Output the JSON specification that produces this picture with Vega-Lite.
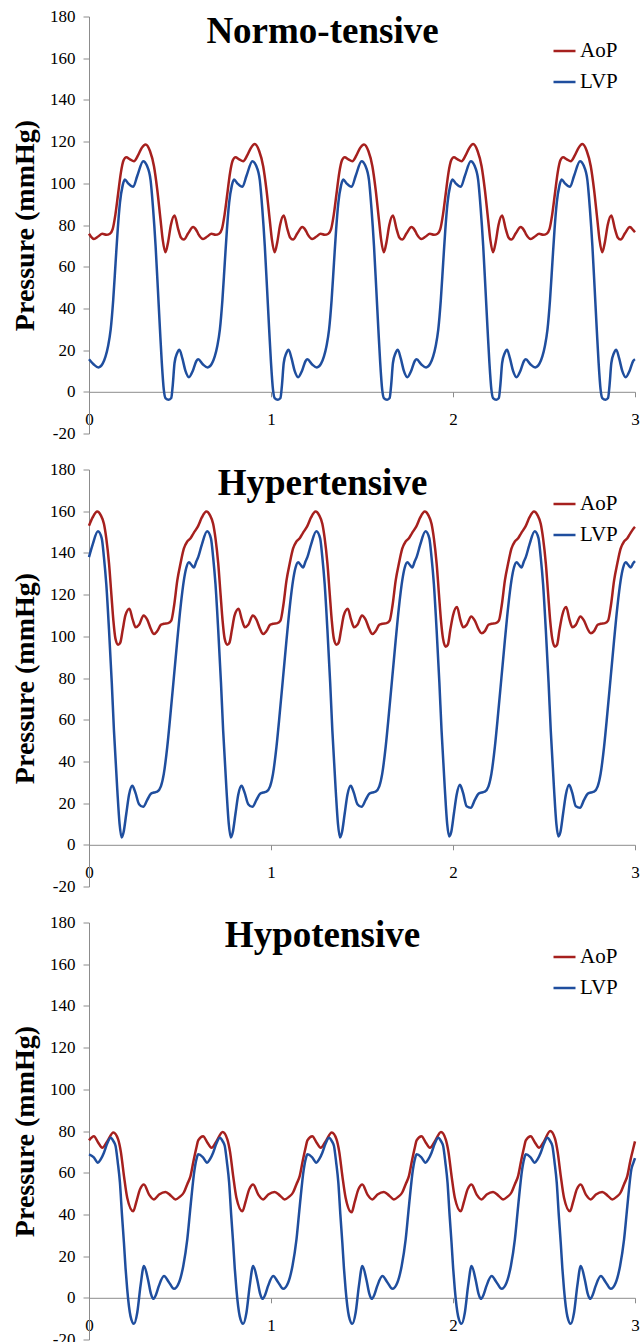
{
"$schema": "https://vega.github.io/schema/vega-lite/v6.json",
"padding": {"left": 11, "top": 7.5, "right": 0, "bottom": 0},
"spacing": 19,
"config": {"font": "Liberation Serif", "view": {"stroke": null},
  "axis": {"labelFont": "Liberation Serif", "titleFont": "Liberation Serif"},
  "legend": {"labelFont": "Liberation Serif"},
  "text": {"font": "Liberation Serif"}},
"resolve": {"scale": {"color": "independent"}, "legend": {"color": "independent"}},
"datasets": {
"normo": [
{"k":"AoP","t":0,"v":75.8},{"k":"AoP","t":0.027,"v":73.3},{"k":"AoP","t":0.05,"v":74.5},{"k":"AoP","t":0.073,"v":75.8},{"k":"AoP","t":0.095,"v":75.3},{"k":"AoP","t":0.115,"v":75.8},{"k":"AoP","t":0.13,"v":78},{"k":"AoP","t":0.145,"v":85},{"k":"AoP","t":0.16,"v":95},{"k":"AoP","t":0.175,"v":105},{"k":"AoP","t":0.19,"v":111},{"k":"AoP","t":0.205,"v":112.5},{"k":"AoP","t":0.225,"v":111.5},{"k":"AoP","t":0.247,"v":110.6},{"k":"AoP","t":0.27,"v":113.5},{"k":"AoP","t":0.29,"v":117},{"k":"AoP","t":0.311,"v":118.6},{"k":"AoP","t":0.335,"v":115.5},{"k":"AoP","t":0.357,"v":108.2},{"k":"AoP","t":0.375,"v":97},{"k":"AoP","t":0.393,"v":82.6},{"k":"AoP","t":0.405,"v":73},{"k":"AoP","t":0.42,"v":66.9},{"k":"AoP","t":0.435,"v":72},{"k":"AoP","t":0.45,"v":80},{"k":"AoP","t":0.47,"v":84.5},{"k":"AoP","t":0.49,"v":78},{"k":"AoP","t":0.505,"v":74},{"k":"AoP","t":0.521,"v":73},{"k":"AoP","t":0.545,"v":76},{"k":"AoP","t":0.572,"v":79},{"k":"AoP","t":0.59,"v":77.5},
{"k":"AoP","t":0.6,"v":75.8},{"k":"AoP","t":0.627,"v":73.3},{"k":"AoP","t":0.65,"v":74.5},{"k":"AoP","t":0.673,"v":75.8},{"k":"AoP","t":0.695,"v":75.3},{"k":"AoP","t":0.715,"v":75.8},{"k":"AoP","t":0.73,"v":78},{"k":"AoP","t":0.745,"v":85},{"k":"AoP","t":0.76,"v":95},{"k":"AoP","t":0.775,"v":105},{"k":"AoP","t":0.79,"v":111},{"k":"AoP","t":0.805,"v":112.5},{"k":"AoP","t":0.825,"v":111.5},{"k":"AoP","t":0.847,"v":110.6},{"k":"AoP","t":0.87,"v":113.5},{"k":"AoP","t":0.89,"v":117},{"k":"AoP","t":0.911,"v":118.8},{"k":"AoP","t":0.935,"v":115.5},{"k":"AoP","t":0.957,"v":108.2},{"k":"AoP","t":0.975,"v":97},{"k":"AoP","t":0.993,"v":82.6},{"k":"AoP","t":1.005,"v":73},{"k":"AoP","t":1.02,"v":66.9},{"k":"AoP","t":1.035,"v":72},{"k":"AoP","t":1.05,"v":80},{"k":"AoP","t":1.07,"v":84.5},{"k":"AoP","t":1.09,"v":78},{"k":"AoP","t":1.105,"v":74},{"k":"AoP","t":1.121,"v":73},{"k":"AoP","t":1.145,"v":76},{"k":"AoP","t":1.172,"v":79},{"k":"AoP","t":1.19,"v":77.5},
{"k":"AoP","t":1.2,"v":75.8},{"k":"AoP","t":1.227,"v":73.3},{"k":"AoP","t":1.25,"v":74.5},{"k":"AoP","t":1.273,"v":75.8},{"k":"AoP","t":1.295,"v":75.3},{"k":"AoP","t":1.315,"v":75.8},{"k":"AoP","t":1.33,"v":78},{"k":"AoP","t":1.345,"v":85},{"k":"AoP","t":1.36,"v":95},{"k":"AoP","t":1.375,"v":105},{"k":"AoP","t":1.39,"v":111},{"k":"AoP","t":1.405,"v":112.5},{"k":"AoP","t":1.425,"v":111.5},{"k":"AoP","t":1.447,"v":110.6},{"k":"AoP","t":1.47,"v":113.5},{"k":"AoP","t":1.49,"v":117},{"k":"AoP","t":1.511,"v":118.6},{"k":"AoP","t":1.535,"v":115.5},{"k":"AoP","t":1.557,"v":108.2},{"k":"AoP","t":1.575,"v":97},{"k":"AoP","t":1.593,"v":82.6},{"k":"AoP","t":1.605,"v":73},{"k":"AoP","t":1.62,"v":66.9},{"k":"AoP","t":1.635,"v":72},{"k":"AoP","t":1.65,"v":80},{"k":"AoP","t":1.67,"v":84.5},{"k":"AoP","t":1.69,"v":78},{"k":"AoP","t":1.705,"v":74},{"k":"AoP","t":1.721,"v":73},{"k":"AoP","t":1.745,"v":76},{"k":"AoP","t":1.772,"v":79},{"k":"AoP","t":1.79,"v":77.5},
{"k":"AoP","t":1.8,"v":75.8},{"k":"AoP","t":1.827,"v":73.3},{"k":"AoP","t":1.85,"v":74.5},{"k":"AoP","t":1.873,"v":75.8},{"k":"AoP","t":1.895,"v":75.3},{"k":"AoP","t":1.915,"v":75.8},{"k":"AoP","t":1.93,"v":78},{"k":"AoP","t":1.945,"v":85},{"k":"AoP","t":1.96,"v":95},{"k":"AoP","t":1.975,"v":105},{"k":"AoP","t":1.99,"v":111},{"k":"AoP","t":2.005,"v":112.5},{"k":"AoP","t":2.025,"v":111.5},{"k":"AoP","t":2.047,"v":110.6},{"k":"AoP","t":2.07,"v":113.5},{"k":"AoP","t":2.09,"v":117},{"k":"AoP","t":2.111,"v":118.8},{"k":"AoP","t":2.135,"v":115.5},{"k":"AoP","t":2.157,"v":108.2},{"k":"AoP","t":2.175,"v":97},{"k":"AoP","t":2.193,"v":82.6},{"k":"AoP","t":2.205,"v":73},{"k":"AoP","t":2.22,"v":66.9},{"k":"AoP","t":2.235,"v":72},{"k":"AoP","t":2.25,"v":80},{"k":"AoP","t":2.27,"v":84.5},{"k":"AoP","t":2.29,"v":78},{"k":"AoP","t":2.305,"v":74},{"k":"AoP","t":2.321,"v":73},{"k":"AoP","t":2.345,"v":76},{"k":"AoP","t":2.372,"v":79},{"k":"AoP","t":2.39,"v":77.5},
{"k":"AoP","t":2.4,"v":75.8},{"k":"AoP","t":2.427,"v":73.3},{"k":"AoP","t":2.45,"v":74.5},{"k":"AoP","t":2.473,"v":75.8},{"k":"AoP","t":2.495,"v":75.3},{"k":"AoP","t":2.515,"v":75.8},{"k":"AoP","t":2.53,"v":78},{"k":"AoP","t":2.545,"v":85},{"k":"AoP","t":2.56,"v":95},{"k":"AoP","t":2.575,"v":105},{"k":"AoP","t":2.59,"v":111},{"k":"AoP","t":2.605,"v":112.5},{"k":"AoP","t":2.625,"v":111.5},{"k":"AoP","t":2.647,"v":110.6},{"k":"AoP","t":2.67,"v":113.5},{"k":"AoP","t":2.69,"v":117},{"k":"AoP","t":2.711,"v":118.8},{"k":"AoP","t":2.735,"v":115.5},{"k":"AoP","t":2.757,"v":108.2},{"k":"AoP","t":2.775,"v":97},{"k":"AoP","t":2.793,"v":82.6},{"k":"AoP","t":2.805,"v":73},{"k":"AoP","t":2.82,"v":66.9},{"k":"AoP","t":2.835,"v":72},{"k":"AoP","t":2.85,"v":80},{"k":"AoP","t":2.87,"v":84.5},{"k":"AoP","t":2.89,"v":78},{"k":"AoP","t":2.905,"v":74},{"k":"AoP","t":2.921,"v":73},{"k":"AoP","t":2.945,"v":76},{"k":"AoP","t":2.972,"v":79},{"k":"AoP","t":2.99,"v":77.5},{"k":"AoP","t":3,"v":76.5},
{"k":"LVP","t":0,"v":15.6},{"k":"LVP","t":0.025,"v":13.2},{"k":"LVP","t":0.052,"v":11.7},{"k":"LVP","t":0.075,"v":13.5},{"k":"LVP","t":0.091,"v":17},{"k":"LVP","t":0.105,"v":22},{"k":"LVP","t":0.119,"v":29.8},{"k":"LVP","t":0.133,"v":44},{"k":"LVP","t":0.146,"v":61.8},{"k":"LVP","t":0.158,"v":78},{"k":"LVP","t":0.17,"v":90.6},{"k":"LVP","t":0.185,"v":99},{"k":"LVP","t":0.197,"v":101.8},{"k":"LVP","t":0.215,"v":100},{"k":"LVP","t":0.243,"v":98.3},{"k":"LVP","t":0.265,"v":103.5},{"k":"LVP","t":0.298,"v":110.6},{"k":"LVP","t":0.318,"v":108.5},{"k":"LVP","t":0.338,"v":101.8},{"k":"LVP","t":0.352,"v":88},{"k":"LVP","t":0.366,"v":69.8},{"k":"LVP","t":0.378,"v":50},{"k":"LVP","t":0.39,"v":29.8},{"k":"LVP","t":0.4,"v":14},{"k":"LVP","t":0.411,"v":1},{"k":"LVP","t":0.42,"v":-3},{"k":"LVP","t":0.438,"v":-3.8},{"k":"LVP","t":0.452,"v":-3},{"k":"LVP","t":0.46,"v":3},{"k":"LVP","t":0.47,"v":13.8},{"k":"LVP","t":0.484,"v":18.5},{"k":"LVP","t":0.497,"v":20.2},{"k":"LVP","t":0.513,"v":16},{"k":"LVP","t":0.53,"v":10},{"k":"LVP","t":0.549,"v":7},{"k":"LVP","t":0.57,"v":10},{"k":"LVP","t":0.59,"v":14.8},
{"k":"LVP","t":0.6,"v":15.6},{"k":"LVP","t":0.625,"v":13.2},{"k":"LVP","t":0.652,"v":11.7},{"k":"LVP","t":0.675,"v":13.5},{"k":"LVP","t":0.691,"v":17},{"k":"LVP","t":0.705,"v":22},{"k":"LVP","t":0.719,"v":29.8},{"k":"LVP","t":0.733,"v":44},{"k":"LVP","t":0.746,"v":61.8},{"k":"LVP","t":0.758,"v":78},{"k":"LVP","t":0.77,"v":90.6},{"k":"LVP","t":0.785,"v":99},{"k":"LVP","t":0.797,"v":101.8},{"k":"LVP","t":0.815,"v":100},{"k":"LVP","t":0.843,"v":98.3},{"k":"LVP","t":0.865,"v":103.5},{"k":"LVP","t":0.898,"v":110.6},{"k":"LVP","t":0.918,"v":108.5},{"k":"LVP","t":0.938,"v":101.8},{"k":"LVP","t":0.952,"v":88},{"k":"LVP","t":0.966,"v":69.8},{"k":"LVP","t":0.978,"v":50},{"k":"LVP","t":0.99,"v":29.8},{"k":"LVP","t":1,"v":14},{"k":"LVP","t":1.011,"v":1},{"k":"LVP","t":1.02,"v":-3},{"k":"LVP","t":1.038,"v":-3.8},{"k":"LVP","t":1.052,"v":-3},{"k":"LVP","t":1.06,"v":3},{"k":"LVP","t":1.07,"v":13.8},{"k":"LVP","t":1.084,"v":18.5},{"k":"LVP","t":1.097,"v":20.2},{"k":"LVP","t":1.113,"v":16},{"k":"LVP","t":1.13,"v":10},{"k":"LVP","t":1.149,"v":7},{"k":"LVP","t":1.17,"v":10},{"k":"LVP","t":1.19,"v":14.8},
{"k":"LVP","t":1.2,"v":15.6},{"k":"LVP","t":1.225,"v":13.2},{"k":"LVP","t":1.252,"v":11.7},{"k":"LVP","t":1.275,"v":13.5},{"k":"LVP","t":1.291,"v":17},{"k":"LVP","t":1.305,"v":22},{"k":"LVP","t":1.319,"v":29.8},{"k":"LVP","t":1.333,"v":44},{"k":"LVP","t":1.346,"v":61.8},{"k":"LVP","t":1.358,"v":78},{"k":"LVP","t":1.37,"v":90.6},{"k":"LVP","t":1.385,"v":99},{"k":"LVP","t":1.397,"v":101.8},{"k":"LVP","t":1.415,"v":100},{"k":"LVP","t":1.443,"v":98.3},{"k":"LVP","t":1.465,"v":103.5},{"k":"LVP","t":1.498,"v":110.6},{"k":"LVP","t":1.518,"v":108.5},{"k":"LVP","t":1.538,"v":101.8},{"k":"LVP","t":1.552,"v":88},{"k":"LVP","t":1.566,"v":69.8},{"k":"LVP","t":1.578,"v":50},{"k":"LVP","t":1.59,"v":29.8},{"k":"LVP","t":1.6,"v":14},{"k":"LVP","t":1.611,"v":1},{"k":"LVP","t":1.62,"v":-3},{"k":"LVP","t":1.638,"v":-3.8},{"k":"LVP","t":1.652,"v":-3},{"k":"LVP","t":1.66,"v":3},{"k":"LVP","t":1.67,"v":13.8},{"k":"LVP","t":1.684,"v":18.5},{"k":"LVP","t":1.697,"v":20.2},{"k":"LVP","t":1.713,"v":16},{"k":"LVP","t":1.73,"v":10},{"k":"LVP","t":1.749,"v":7},{"k":"LVP","t":1.77,"v":10},{"k":"LVP","t":1.79,"v":14.8},
{"k":"LVP","t":1.8,"v":15.6},{"k":"LVP","t":1.825,"v":13.2},{"k":"LVP","t":1.852,"v":11.7},{"k":"LVP","t":1.875,"v":13.5},{"k":"LVP","t":1.891,"v":17},{"k":"LVP","t":1.905,"v":22},{"k":"LVP","t":1.919,"v":29.8},{"k":"LVP","t":1.933,"v":44},{"k":"LVP","t":1.946,"v":61.8},{"k":"LVP","t":1.958,"v":78},{"k":"LVP","t":1.97,"v":90.6},{"k":"LVP","t":1.985,"v":99},{"k":"LVP","t":1.997,"v":101.8},{"k":"LVP","t":2.015,"v":100},{"k":"LVP","t":2.043,"v":98.3},{"k":"LVP","t":2.065,"v":103.5},{"k":"LVP","t":2.098,"v":110.6},{"k":"LVP","t":2.118,"v":108.5},{"k":"LVP","t":2.138,"v":101.8},{"k":"LVP","t":2.152,"v":88},{"k":"LVP","t":2.166,"v":69.8},{"k":"LVP","t":2.178,"v":50},{"k":"LVP","t":2.19,"v":29.8},{"k":"LVP","t":2.2,"v":14},{"k":"LVP","t":2.211,"v":1},{"k":"LVP","t":2.22,"v":-3},{"k":"LVP","t":2.238,"v":-3.8},{"k":"LVP","t":2.252,"v":-3},{"k":"LVP","t":2.26,"v":3},{"k":"LVP","t":2.27,"v":13.8},{"k":"LVP","t":2.284,"v":18.5},{"k":"LVP","t":2.297,"v":20.2},{"k":"LVP","t":2.313,"v":16},{"k":"LVP","t":2.33,"v":10},{"k":"LVP","t":2.349,"v":7},{"k":"LVP","t":2.37,"v":10},{"k":"LVP","t":2.39,"v":14.8},
{"k":"LVP","t":2.4,"v":15.6},{"k":"LVP","t":2.425,"v":13.2},{"k":"LVP","t":2.452,"v":11.7},{"k":"LVP","t":2.475,"v":13.5},{"k":"LVP","t":2.491,"v":17},{"k":"LVP","t":2.505,"v":22},{"k":"LVP","t":2.519,"v":29.8},{"k":"LVP","t":2.533,"v":44},{"k":"LVP","t":2.546,"v":61.8},{"k":"LVP","t":2.558,"v":78},{"k":"LVP","t":2.57,"v":90.6},{"k":"LVP","t":2.585,"v":99},{"k":"LVP","t":2.597,"v":101.8},{"k":"LVP","t":2.615,"v":100},{"k":"LVP","t":2.643,"v":98.3},{"k":"LVP","t":2.665,"v":103.5},{"k":"LVP","t":2.698,"v":110.6},{"k":"LVP","t":2.718,"v":108.5},{"k":"LVP","t":2.738,"v":101.8},{"k":"LVP","t":2.752,"v":88},{"k":"LVP","t":2.766,"v":69.8},{"k":"LVP","t":2.778,"v":50},{"k":"LVP","t":2.79,"v":29.8},{"k":"LVP","t":2.8,"v":14},{"k":"LVP","t":2.811,"v":1},{"k":"LVP","t":2.82,"v":-3},{"k":"LVP","t":2.838,"v":-3.8},{"k":"LVP","t":2.852,"v":-3},{"k":"LVP","t":2.86,"v":3},{"k":"LVP","t":2.87,"v":13.8},{"k":"LVP","t":2.884,"v":18.5},{"k":"LVP","t":2.897,"v":20.2},{"k":"LVP","t":2.913,"v":16},{"k":"LVP","t":2.93,"v":10},{"k":"LVP","t":2.949,"v":7},{"k":"LVP","t":2.97,"v":10},{"k":"LVP","t":2.99,"v":14.8},{"k":"LVP","t":3,"v":15.6}
],
"hyper": [
{"k":"AoP","t":0,"v":153},{"k":"AoP","t":0.02,"v":157},{"k":"AoP","t":0.045,"v":159.8},{"k":"AoP","t":0.065,"v":158},{"k":"AoP","t":0.082,"v":154},{"k":"AoP","t":0.095,"v":147},{"k":"AoP","t":0.11,"v":135},{"k":"AoP","t":0.123,"v":120},{"k":"AoP","t":0.134,"v":107.5},{"k":"AoP","t":0.145,"v":99},{"k":"AoP","t":0.16,"v":96},{"k":"AoP","t":0.172,"v":97},{"k":"AoP","t":0.185,"v":103},{"k":"AoP","t":0.2,"v":110},{"k":"AoP","t":0.222,"v":113.2},{"k":"AoP","t":0.24,"v":108},{"k":"AoP","t":0.256,"v":104.3},{"k":"AoP","t":0.275,"v":105.5},{"k":"AoP","t":0.3,"v":110},{"k":"AoP","t":0.32,"v":108},{"k":"AoP","t":0.34,"v":103.5},{"k":"AoP","t":0.357,"v":101.1},{"k":"AoP","t":0.375,"v":102.5},{"k":"AoP","t":0.395,"v":105.5},{"k":"AoP","t":0.411,"v":106},{"k":"AoP","t":0.435,"v":106.3},{"k":"AoP","t":0.452,"v":107.5},{"k":"AoP","t":0.468,"v":115},{"k":"AoP","t":0.485,"v":126.7},{"k":"AoP","t":0.503,"v":135},{"k":"AoP","t":0.521,"v":142},{"k":"AoP","t":0.54,"v":145.5},{"k":"AoP","t":0.558,"v":147},{"k":"AoP","t":0.575,"v":149.5},{"k":"AoP","t":0.59,"v":151.5},
{"k":"AoP","t":0.6,"v":153},{"k":"AoP","t":0.62,"v":157},{"k":"AoP","t":0.645,"v":159.8},{"k":"AoP","t":0.665,"v":158},{"k":"AoP","t":0.682,"v":154},{"k":"AoP","t":0.695,"v":147},{"k":"AoP","t":0.71,"v":135},{"k":"AoP","t":0.723,"v":120},{"k":"AoP","t":0.734,"v":107.5},{"k":"AoP","t":0.745,"v":99},{"k":"AoP","t":0.76,"v":96},{"k":"AoP","t":0.772,"v":97},{"k":"AoP","t":0.785,"v":103},{"k":"AoP","t":0.8,"v":110},{"k":"AoP","t":0.822,"v":113.2},{"k":"AoP","t":0.84,"v":108},{"k":"AoP","t":0.856,"v":104.3},{"k":"AoP","t":0.875,"v":105.5},{"k":"AoP","t":0.9,"v":110},{"k":"AoP","t":0.92,"v":108},{"k":"AoP","t":0.94,"v":103.5},{"k":"AoP","t":0.957,"v":101.1},{"k":"AoP","t":0.975,"v":102.5},{"k":"AoP","t":0.995,"v":105.5},{"k":"AoP","t":1.011,"v":106},{"k":"AoP","t":1.035,"v":106.3},{"k":"AoP","t":1.052,"v":107.5},{"k":"AoP","t":1.068,"v":115},{"k":"AoP","t":1.085,"v":126.7},{"k":"AoP","t":1.103,"v":135},{"k":"AoP","t":1.121,"v":142},{"k":"AoP","t":1.14,"v":145.5},{"k":"AoP","t":1.158,"v":147},{"k":"AoP","t":1.175,"v":149.5},{"k":"AoP","t":1.19,"v":151.5},
{"k":"AoP","t":1.2,"v":153},{"k":"AoP","t":1.22,"v":157},{"k":"AoP","t":1.245,"v":159.8},{"k":"AoP","t":1.265,"v":158},{"k":"AoP","t":1.282,"v":154},{"k":"AoP","t":1.295,"v":147},{"k":"AoP","t":1.31,"v":135},{"k":"AoP","t":1.323,"v":120},{"k":"AoP","t":1.334,"v":107.5},{"k":"AoP","t":1.345,"v":99},{"k":"AoP","t":1.36,"v":96},{"k":"AoP","t":1.372,"v":97},{"k":"AoP","t":1.385,"v":103},{"k":"AoP","t":1.4,"v":110},{"k":"AoP","t":1.422,"v":113.2},{"k":"AoP","t":1.44,"v":108},{"k":"AoP","t":1.456,"v":104.3},{"k":"AoP","t":1.475,"v":105.5},{"k":"AoP","t":1.5,"v":110},{"k":"AoP","t":1.52,"v":108},{"k":"AoP","t":1.54,"v":103.5},{"k":"AoP","t":1.557,"v":101.1},{"k":"AoP","t":1.575,"v":102.5},{"k":"AoP","t":1.595,"v":105.5},{"k":"AoP","t":1.611,"v":106},{"k":"AoP","t":1.635,"v":106.3},{"k":"AoP","t":1.652,"v":107.5},{"k":"AoP","t":1.668,"v":115},{"k":"AoP","t":1.685,"v":126.7},{"k":"AoP","t":1.703,"v":135},{"k":"AoP","t":1.721,"v":142},{"k":"AoP","t":1.74,"v":145.5},{"k":"AoP","t":1.758,"v":147},{"k":"AoP","t":1.775,"v":149.5},{"k":"AoP","t":1.79,"v":151.5},
{"k":"AoP","t":1.8,"v":153},{"k":"AoP","t":1.82,"v":157},{"k":"AoP","t":1.845,"v":159.8},{"k":"AoP","t":1.865,"v":158},{"k":"AoP","t":1.882,"v":154},{"k":"AoP","t":1.895,"v":147},{"k":"AoP","t":1.91,"v":135},{"k":"AoP","t":1.923,"v":120},{"k":"AoP","t":1.934,"v":107.5},{"k":"AoP","t":1.945,"v":99},{"k":"AoP","t":1.96,"v":95},{"k":"AoP","t":1.972,"v":96},{"k":"AoP","t":1.985,"v":103},{"k":"AoP","t":2,"v":110},{"k":"AoP","t":2.022,"v":114},{"k":"AoP","t":2.04,"v":108},{"k":"AoP","t":2.056,"v":104.3},{"k":"AoP","t":2.075,"v":105.5},{"k":"AoP","t":2.1,"v":109.5},{"k":"AoP","t":2.12,"v":107.5},{"k":"AoP","t":2.14,"v":103.5},{"k":"AoP","t":2.157,"v":101.5},{"k":"AoP","t":2.175,"v":102.5},{"k":"AoP","t":2.195,"v":105.5},{"k":"AoP","t":2.211,"v":106},{"k":"AoP","t":2.235,"v":106.3},{"k":"AoP","t":2.252,"v":107.5},{"k":"AoP","t":2.268,"v":115},{"k":"AoP","t":2.285,"v":126.7},{"k":"AoP","t":2.303,"v":135},{"k":"AoP","t":2.321,"v":142},{"k":"AoP","t":2.34,"v":145.5},{"k":"AoP","t":2.358,"v":147},{"k":"AoP","t":2.375,"v":149.5},{"k":"AoP","t":2.39,"v":151.5},
{"k":"AoP","t":2.4,"v":153},{"k":"AoP","t":2.42,"v":157},{"k":"AoP","t":2.445,"v":159.8},{"k":"AoP","t":2.465,"v":158},{"k":"AoP","t":2.482,"v":154},{"k":"AoP","t":2.495,"v":147},{"k":"AoP","t":2.51,"v":135},{"k":"AoP","t":2.523,"v":120},{"k":"AoP","t":2.534,"v":107.5},{"k":"AoP","t":2.545,"v":99},{"k":"AoP","t":2.56,"v":95},{"k":"AoP","t":2.572,"v":96},{"k":"AoP","t":2.585,"v":103},{"k":"AoP","t":2.6,"v":110},{"k":"AoP","t":2.622,"v":114},{"k":"AoP","t":2.64,"v":108},{"k":"AoP","t":2.656,"v":104.3},{"k":"AoP","t":2.675,"v":105.5},{"k":"AoP","t":2.7,"v":109.5},{"k":"AoP","t":2.72,"v":107.5},{"k":"AoP","t":2.74,"v":103.5},{"k":"AoP","t":2.757,"v":101.5},{"k":"AoP","t":2.775,"v":102.5},{"k":"AoP","t":2.795,"v":105.5},{"k":"AoP","t":2.811,"v":106},{"k":"AoP","t":2.835,"v":106.3},{"k":"AoP","t":2.852,"v":107.5},{"k":"AoP","t":2.868,"v":115},{"k":"AoP","t":2.885,"v":126.7},{"k":"AoP","t":2.903,"v":135},{"k":"AoP","t":2.921,"v":142},{"k":"AoP","t":2.94,"v":145.5},{"k":"AoP","t":2.958,"v":147},{"k":"AoP","t":2.975,"v":149.5},{"k":"AoP","t":2.99,"v":151.5},{"k":"AoP","t":3,"v":152.5},
{"k":"LVP","t":0,"v":138},{"k":"LVP","t":0.02,"v":144},{"k":"LVP","t":0.049,"v":150.4},{"k":"LVP","t":0.07,"v":147},{"k":"LVP","t":0.082,"v":138},{"k":"LVP","t":0.095,"v":125},{"k":"LVP","t":0.11,"v":103},{"k":"LVP","t":0.125,"v":78},{"k":"LVP","t":0.137,"v":55},{"k":"LVP","t":0.155,"v":27},{"k":"LVP","t":0.168,"v":10},{"k":"LVP","t":0.179,"v":3.5},{"k":"LVP","t":0.19,"v":6},{"k":"LVP","t":0.205,"v":15},{"k":"LVP","t":0.22,"v":24},{"k":"LVP","t":0.238,"v":28.3},{"k":"LVP","t":0.255,"v":25},{"k":"LVP","t":0.275,"v":19.5},{"k":"LVP","t":0.298,"v":18.2},{"k":"LVP","t":0.32,"v":21.5},{"k":"LVP","t":0.34,"v":24.5},{"k":"LVP","t":0.357,"v":25.1},{"k":"LVP","t":0.375,"v":25.5},{"k":"LVP","t":0.395,"v":28},{"k":"LVP","t":0.411,"v":34},{"k":"LVP","t":0.43,"v":47},{"k":"LVP","t":0.448,"v":63},{"k":"LVP","t":0.466,"v":80},{"k":"LVP","t":0.485,"v":98},{"k":"LVP","t":0.503,"v":114},{"k":"LVP","t":0.521,"v":126.7},{"k":"LVP","t":0.535,"v":133},{"k":"LVP","t":0.549,"v":135.5},{"k":"LVP","t":0.565,"v":134},{"k":"LVP","t":0.576,"v":133},{"k":"LVP","t":0.59,"v":136},
{"k":"LVP","t":0.6,"v":138},{"k":"LVP","t":0.62,"v":144},{"k":"LVP","t":0.649,"v":150.4},{"k":"LVP","t":0.67,"v":147},{"k":"LVP","t":0.682,"v":138},{"k":"LVP","t":0.695,"v":125},{"k":"LVP","t":0.71,"v":103},{"k":"LVP","t":0.725,"v":78},{"k":"LVP","t":0.737,"v":55},{"k":"LVP","t":0.755,"v":27},{"k":"LVP","t":0.768,"v":10},{"k":"LVP","t":0.779,"v":3.5},{"k":"LVP","t":0.79,"v":6},{"k":"LVP","t":0.805,"v":15},{"k":"LVP","t":0.82,"v":24},{"k":"LVP","t":0.838,"v":28.3},{"k":"LVP","t":0.855,"v":25},{"k":"LVP","t":0.875,"v":19.5},{"k":"LVP","t":0.898,"v":18.2},{"k":"LVP","t":0.92,"v":21.5},{"k":"LVP","t":0.94,"v":24.5},{"k":"LVP","t":0.957,"v":25.1},{"k":"LVP","t":0.975,"v":25.5},{"k":"LVP","t":0.995,"v":28},{"k":"LVP","t":1.011,"v":34},{"k":"LVP","t":1.03,"v":47},{"k":"LVP","t":1.048,"v":63},{"k":"LVP","t":1.066,"v":80},{"k":"LVP","t":1.085,"v":98},{"k":"LVP","t":1.103,"v":114},{"k":"LVP","t":1.121,"v":126.7},{"k":"LVP","t":1.135,"v":133},{"k":"LVP","t":1.149,"v":135.5},{"k":"LVP","t":1.165,"v":134},{"k":"LVP","t":1.176,"v":133},{"k":"LVP","t":1.19,"v":136},
{"k":"LVP","t":1.2,"v":138},{"k":"LVP","t":1.22,"v":144},{"k":"LVP","t":1.249,"v":150.4},{"k":"LVP","t":1.27,"v":147},{"k":"LVP","t":1.282,"v":138},{"k":"LVP","t":1.295,"v":125},{"k":"LVP","t":1.31,"v":103},{"k":"LVP","t":1.325,"v":78},{"k":"LVP","t":1.337,"v":55},{"k":"LVP","t":1.355,"v":27},{"k":"LVP","t":1.368,"v":10},{"k":"LVP","t":1.379,"v":3.5},{"k":"LVP","t":1.39,"v":6},{"k":"LVP","t":1.405,"v":15},{"k":"LVP","t":1.42,"v":24},{"k":"LVP","t":1.438,"v":28.3},{"k":"LVP","t":1.455,"v":25},{"k":"LVP","t":1.475,"v":19.5},{"k":"LVP","t":1.498,"v":18.2},{"k":"LVP","t":1.52,"v":21.5},{"k":"LVP","t":1.54,"v":24.5},{"k":"LVP","t":1.557,"v":25.1},{"k":"LVP","t":1.575,"v":25.5},{"k":"LVP","t":1.595,"v":28},{"k":"LVP","t":1.611,"v":34},{"k":"LVP","t":1.63,"v":47},{"k":"LVP","t":1.648,"v":63},{"k":"LVP","t":1.666,"v":80},{"k":"LVP","t":1.685,"v":98},{"k":"LVP","t":1.703,"v":114},{"k":"LVP","t":1.721,"v":126.7},{"k":"LVP","t":1.735,"v":133},{"k":"LVP","t":1.749,"v":135.5},{"k":"LVP","t":1.765,"v":134},{"k":"LVP","t":1.776,"v":133},{"k":"LVP","t":1.79,"v":136},
{"k":"LVP","t":1.8,"v":138},{"k":"LVP","t":1.82,"v":144},{"k":"LVP","t":1.849,"v":150.4},{"k":"LVP","t":1.87,"v":147},{"k":"LVP","t":1.882,"v":138},{"k":"LVP","t":1.895,"v":125},{"k":"LVP","t":1.91,"v":103},{"k":"LVP","t":1.925,"v":78},{"k":"LVP","t":1.937,"v":55},{"k":"LVP","t":1.955,"v":27},{"k":"LVP","t":1.968,"v":10},{"k":"LVP","t":1.979,"v":4},{"k":"LVP","t":1.99,"v":6},{"k":"LVP","t":2.005,"v":15},{"k":"LVP","t":2.02,"v":24},{"k":"LVP","t":2.038,"v":28.8},{"k":"LVP","t":2.055,"v":25},{"k":"LVP","t":2.075,"v":18.5},{"k":"LVP","t":2.098,"v":17.8},{"k":"LVP","t":2.12,"v":21.5},{"k":"LVP","t":2.14,"v":24.5},{"k":"LVP","t":2.157,"v":25.1},{"k":"LVP","t":2.175,"v":25.5},{"k":"LVP","t":2.195,"v":28},{"k":"LVP","t":2.211,"v":34},{"k":"LVP","t":2.23,"v":47},{"k":"LVP","t":2.248,"v":63},{"k":"LVP","t":2.266,"v":80},{"k":"LVP","t":2.285,"v":98},{"k":"LVP","t":2.303,"v":114},{"k":"LVP","t":2.321,"v":126.7},{"k":"LVP","t":2.335,"v":133},{"k":"LVP","t":2.349,"v":135.5},{"k":"LVP","t":2.365,"v":134},{"k":"LVP","t":2.376,"v":133},{"k":"LVP","t":2.39,"v":136},
{"k":"LVP","t":2.4,"v":138},{"k":"LVP","t":2.42,"v":144},{"k":"LVP","t":2.449,"v":150.4},{"k":"LVP","t":2.47,"v":147},{"k":"LVP","t":2.482,"v":138},{"k":"LVP","t":2.495,"v":125},{"k":"LVP","t":2.51,"v":103},{"k":"LVP","t":2.525,"v":78},{"k":"LVP","t":2.537,"v":55},{"k":"LVP","t":2.555,"v":27},{"k":"LVP","t":2.568,"v":10},{"k":"LVP","t":2.579,"v":4},{"k":"LVP","t":2.59,"v":6},{"k":"LVP","t":2.605,"v":15},{"k":"LVP","t":2.62,"v":24},{"k":"LVP","t":2.638,"v":28.8},{"k":"LVP","t":2.655,"v":25},{"k":"LVP","t":2.675,"v":18.5},{"k":"LVP","t":2.698,"v":17.8},{"k":"LVP","t":2.72,"v":21.5},{"k":"LVP","t":2.74,"v":24.5},{"k":"LVP","t":2.757,"v":25.1},{"k":"LVP","t":2.775,"v":25.5},{"k":"LVP","t":2.795,"v":28},{"k":"LVP","t":2.811,"v":34},{"k":"LVP","t":2.83,"v":47},{"k":"LVP","t":2.848,"v":63},{"k":"LVP","t":2.866,"v":80},{"k":"LVP","t":2.885,"v":98},{"k":"LVP","t":2.903,"v":114},{"k":"LVP","t":2.921,"v":126.7},{"k":"LVP","t":2.935,"v":133},{"k":"LVP","t":2.949,"v":135.5},{"k":"LVP","t":2.965,"v":134},{"k":"LVP","t":2.976,"v":133},{"k":"LVP","t":2.99,"v":135},{"k":"LVP","t":3,"v":136}
],
"hypo": [
{"k":"AoP","t":0,"v":75.5},{"k":"AoP","t":0.027,"v":77.5},{"k":"AoP","t":0.05,"v":74.5},{"k":"AoP","t":0.073,"v":72},{"k":"AoP","t":0.1,"v":75},{"k":"AoP","t":0.134,"v":79.3},{"k":"AoP","t":0.16,"v":76},{"k":"AoP","t":0.175,"v":70},{"k":"AoP","t":0.192,"v":58.5},{"k":"AoP","t":0.21,"v":48},{"k":"AoP","t":0.243,"v":41.5},{"k":"AoP","t":0.26,"v":46},{"k":"AoP","t":0.28,"v":52},{"k":"AoP","t":0.302,"v":54.4},{"k":"AoP","t":0.33,"v":49.5},{"k":"AoP","t":0.357,"v":47.2},{"k":"AoP","t":0.385,"v":49.5},{"k":"AoP","t":0.42,"v":50.8},{"k":"AoP","t":0.45,"v":49},{"k":"AoP","t":0.475,"v":47.2},{"k":"AoP","t":0.5,"v":48.5},{"k":"AoP","t":0.521,"v":50.5},{"k":"AoP","t":0.54,"v":54.5},{"k":"AoP","t":0.558,"v":58.5},{"k":"AoP","t":0.575,"v":66},{"k":"AoP","t":0.59,"v":72},
{"k":"AoP","t":0.6,"v":75.5},{"k":"AoP","t":0.627,"v":77.5},{"k":"AoP","t":0.65,"v":74.5},{"k":"AoP","t":0.673,"v":72},{"k":"AoP","t":0.7,"v":75},{"k":"AoP","t":0.734,"v":79.5},{"k":"AoP","t":0.76,"v":76},{"k":"AoP","t":0.775,"v":70},{"k":"AoP","t":0.792,"v":58.5},{"k":"AoP","t":0.81,"v":48},{"k":"AoP","t":0.843,"v":41.5},{"k":"AoP","t":0.86,"v":46},{"k":"AoP","t":0.88,"v":52},{"k":"AoP","t":0.902,"v":54.4},{"k":"AoP","t":0.93,"v":49.5},{"k":"AoP","t":0.957,"v":47.2},{"k":"AoP","t":0.985,"v":49.5},{"k":"AoP","t":1.02,"v":50.8},{"k":"AoP","t":1.05,"v":49},{"k":"AoP","t":1.075,"v":47.2},{"k":"AoP","t":1.1,"v":48.5},{"k":"AoP","t":1.121,"v":50.5},{"k":"AoP","t":1.14,"v":54.5},{"k":"AoP","t":1.158,"v":58.5},{"k":"AoP","t":1.175,"v":66},{"k":"AoP","t":1.19,"v":72},
{"k":"AoP","t":1.2,"v":75.5},{"k":"AoP","t":1.227,"v":77.5},{"k":"AoP","t":1.25,"v":74.5},{"k":"AoP","t":1.273,"v":72},{"k":"AoP","t":1.3,"v":75},{"k":"AoP","t":1.334,"v":79.3},{"k":"AoP","t":1.36,"v":76},{"k":"AoP","t":1.375,"v":70},{"k":"AoP","t":1.392,"v":58.5},{"k":"AoP","t":1.41,"v":48},{"k":"AoP","t":1.443,"v":41},{"k":"AoP","t":1.46,"v":46},{"k":"AoP","t":1.48,"v":52},{"k":"AoP","t":1.502,"v":54.4},{"k":"AoP","t":1.53,"v":49.5},{"k":"AoP","t":1.557,"v":47.2},{"k":"AoP","t":1.585,"v":49.5},{"k":"AoP","t":1.62,"v":50.8},{"k":"AoP","t":1.65,"v":49},{"k":"AoP","t":1.675,"v":47.2},{"k":"AoP","t":1.7,"v":48.5},{"k":"AoP","t":1.721,"v":50.5},{"k":"AoP","t":1.74,"v":54.5},{"k":"AoP","t":1.758,"v":58.5},{"k":"AoP","t":1.775,"v":66},{"k":"AoP","t":1.79,"v":72},
{"k":"AoP","t":1.8,"v":75.5},{"k":"AoP","t":1.827,"v":77.5},{"k":"AoP","t":1.85,"v":74.5},{"k":"AoP","t":1.873,"v":72},{"k":"AoP","t":1.9,"v":75},{"k":"AoP","t":1.934,"v":79.5},{"k":"AoP","t":1.96,"v":76},{"k":"AoP","t":1.975,"v":70},{"k":"AoP","t":1.992,"v":58.5},{"k":"AoP","t":2.01,"v":48},{"k":"AoP","t":2.043,"v":41.5},{"k":"AoP","t":2.06,"v":46},{"k":"AoP","t":2.08,"v":52},{"k":"AoP","t":2.102,"v":54.4},{"k":"AoP","t":2.13,"v":49.5},{"k":"AoP","t":2.157,"v":47.2},{"k":"AoP","t":2.185,"v":49.5},{"k":"AoP","t":2.22,"v":50.8},{"k":"AoP","t":2.25,"v":49},{"k":"AoP","t":2.275,"v":47.2},{"k":"AoP","t":2.3,"v":48.5},{"k":"AoP","t":2.321,"v":50.5},{"k":"AoP","t":2.34,"v":54.5},{"k":"AoP","t":2.358,"v":58.5},{"k":"AoP","t":2.375,"v":66},{"k":"AoP","t":2.39,"v":72},
{"k":"AoP","t":2.4,"v":75.5},{"k":"AoP","t":2.427,"v":77.5},{"k":"AoP","t":2.45,"v":74.5},{"k":"AoP","t":2.473,"v":72},{"k":"AoP","t":2.5,"v":75},{"k":"AoP","t":2.534,"v":80},{"k":"AoP","t":2.56,"v":76.5},{"k":"AoP","t":2.575,"v":70},{"k":"AoP","t":2.592,"v":58.5},{"k":"AoP","t":2.61,"v":48},{"k":"AoP","t":2.643,"v":41.5},{"k":"AoP","t":2.66,"v":46},{"k":"AoP","t":2.68,"v":52},{"k":"AoP","t":2.702,"v":54.4},{"k":"AoP","t":2.73,"v":49.5},{"k":"AoP","t":2.757,"v":47.2},{"k":"AoP","t":2.785,"v":49.5},{"k":"AoP","t":2.82,"v":50.8},{"k":"AoP","t":2.85,"v":49},{"k":"AoP","t":2.875,"v":47.2},{"k":"AoP","t":2.9,"v":48.5},{"k":"AoP","t":2.921,"v":50.5},{"k":"AoP","t":2.94,"v":54.5},{"k":"AoP","t":2.958,"v":58.5},{"k":"AoP","t":2.975,"v":66},{"k":"AoP","t":2.99,"v":71.5},{"k":"AoP","t":3,"v":75},
{"k":"LVP","t":0,"v":68.8},{"k":"LVP","t":0.025,"v":67.5},{"k":"LVP","t":0.049,"v":64.8},{"k":"LVP","t":0.065,"v":66.5},{"k":"LVP","t":0.082,"v":69.6},{"k":"LVP","t":0.1,"v":74},{"k":"LVP","t":0.119,"v":76.8},{"k":"LVP","t":0.135,"v":75},{"k":"LVP","t":0.146,"v":72.8},{"k":"LVP","t":0.158,"v":65},{"k":"LVP","t":0.17,"v":55.2},{"k":"LVP","t":0.181,"v":40},{"k":"LVP","t":0.192,"v":26.4},{"k":"LVP","t":0.201,"v":14},{"k":"LVP","t":0.21,"v":4},{"k":"LVP","t":0.228,"v":-8.8},{"k":"LVP","t":0.247,"v":-12.5},{"k":"LVP","t":0.265,"v":-7.2},{"k":"LVP","t":0.283,"v":5.7},{"k":"LVP","t":0.302,"v":15.3},{"k":"LVP","t":0.324,"v":8.8},{"k":"LVP","t":0.34,"v":2},{"k":"LVP","t":0.353,"v":-0.5},{"k":"LVP","t":0.368,"v":1.5},{"k":"LVP","t":0.384,"v":5.7},{"k":"LVP","t":0.412,"v":10.4},{"k":"LVP","t":0.439,"v":7.5},{"k":"LVP","t":0.467,"v":4.3},{"k":"LVP","t":0.494,"v":7.2},{"k":"LVP","t":0.518,"v":15.3},{"k":"LVP","t":0.54,"v":28},{"k":"LVP","t":0.558,"v":44},{"k":"LVP","t":0.58,"v":61.6},{"k":"LVP","t":0.592,"v":67},
{"k":"LVP","t":0.6,"v":68.8},{"k":"LVP","t":0.625,"v":67.5},{"k":"LVP","t":0.649,"v":64.8},{"k":"LVP","t":0.665,"v":66.5},{"k":"LVP","t":0.682,"v":69.6},{"k":"LVP","t":0.7,"v":74},{"k":"LVP","t":0.719,"v":76.8},{"k":"LVP","t":0.735,"v":75},{"k":"LVP","t":0.746,"v":72.8},{"k":"LVP","t":0.758,"v":65},{"k":"LVP","t":0.77,"v":55.2},{"k":"LVP","t":0.781,"v":40},{"k":"LVP","t":0.792,"v":26.4},{"k":"LVP","t":0.801,"v":14},{"k":"LVP","t":0.81,"v":4},{"k":"LVP","t":0.828,"v":-8.8},{"k":"LVP","t":0.847,"v":-12.5},{"k":"LVP","t":0.865,"v":-7.2},{"k":"LVP","t":0.883,"v":5.7},{"k":"LVP","t":0.902,"v":15.3},{"k":"LVP","t":0.924,"v":8.8},{"k":"LVP","t":0.94,"v":2},{"k":"LVP","t":0.953,"v":-0.5},{"k":"LVP","t":0.968,"v":1.5},{"k":"LVP","t":0.984,"v":5.7},{"k":"LVP","t":1.012,"v":10.4},{"k":"LVP","t":1.039,"v":7.5},{"k":"LVP","t":1.067,"v":4.3},{"k":"LVP","t":1.094,"v":7.2},{"k":"LVP","t":1.118,"v":15.3},{"k":"LVP","t":1.14,"v":28},{"k":"LVP","t":1.158,"v":44},{"k":"LVP","t":1.18,"v":61.6},{"k":"LVP","t":1.192,"v":67},
{"k":"LVP","t":1.2,"v":68.8},{"k":"LVP","t":1.225,"v":67.5},{"k":"LVP","t":1.249,"v":64.8},{"k":"LVP","t":1.265,"v":66.5},{"k":"LVP","t":1.282,"v":69.6},{"k":"LVP","t":1.3,"v":74},{"k":"LVP","t":1.319,"v":76.8},{"k":"LVP","t":1.335,"v":75},{"k":"LVP","t":1.346,"v":72.8},{"k":"LVP","t":1.358,"v":65},{"k":"LVP","t":1.37,"v":55.2},{"k":"LVP","t":1.381,"v":40},{"k":"LVP","t":1.392,"v":26.4},{"k":"LVP","t":1.401,"v":14},{"k":"LVP","t":1.41,"v":4},{"k":"LVP","t":1.428,"v":-8.8},{"k":"LVP","t":1.447,"v":-12.5},{"k":"LVP","t":1.465,"v":-7.2},{"k":"LVP","t":1.483,"v":5.7},{"k":"LVP","t":1.502,"v":15.3},{"k":"LVP","t":1.524,"v":8.8},{"k":"LVP","t":1.54,"v":2},{"k":"LVP","t":1.553,"v":-0.5},{"k":"LVP","t":1.568,"v":1.5},{"k":"LVP","t":1.584,"v":5.7},{"k":"LVP","t":1.612,"v":10.4},{"k":"LVP","t":1.639,"v":7.5},{"k":"LVP","t":1.667,"v":4.3},{"k":"LVP","t":1.694,"v":7.2},{"k":"LVP","t":1.718,"v":15.3},{"k":"LVP","t":1.74,"v":28},{"k":"LVP","t":1.758,"v":44},{"k":"LVP","t":1.78,"v":61.6},{"k":"LVP","t":1.792,"v":67},
{"k":"LVP","t":1.8,"v":68.8},{"k":"LVP","t":1.825,"v":67.5},{"k":"LVP","t":1.849,"v":64.8},{"k":"LVP","t":1.865,"v":66.5},{"k":"LVP","t":1.882,"v":69.6},{"k":"LVP","t":1.9,"v":74},{"k":"LVP","t":1.919,"v":76.8},{"k":"LVP","t":1.935,"v":75},{"k":"LVP","t":1.946,"v":72.8},{"k":"LVP","t":1.958,"v":65},{"k":"LVP","t":1.97,"v":55.2},{"k":"LVP","t":1.981,"v":40},{"k":"LVP","t":1.992,"v":26.4},{"k":"LVP","t":2.001,"v":14},{"k":"LVP","t":2.01,"v":4},{"k":"LVP","t":2.028,"v":-8.8},{"k":"LVP","t":2.047,"v":-12.5},{"k":"LVP","t":2.065,"v":-7.2},{"k":"LVP","t":2.083,"v":5.7},{"k":"LVP","t":2.102,"v":15.3},{"k":"LVP","t":2.124,"v":8.8},{"k":"LVP","t":2.14,"v":2},{"k":"LVP","t":2.153,"v":-0.5},{"k":"LVP","t":2.168,"v":1.5},{"k":"LVP","t":2.184,"v":5.7},{"k":"LVP","t":2.212,"v":10.4},{"k":"LVP","t":2.239,"v":7.5},{"k":"LVP","t":2.267,"v":4.3},{"k":"LVP","t":2.294,"v":7.2},{"k":"LVP","t":2.318,"v":15.3},{"k":"LVP","t":2.34,"v":28},{"k":"LVP","t":2.358,"v":44},{"k":"LVP","t":2.38,"v":61.6},{"k":"LVP","t":2.392,"v":67},
{"k":"LVP","t":2.4,"v":68.8},{"k":"LVP","t":2.425,"v":67.5},{"k":"LVP","t":2.449,"v":64.8},{"k":"LVP","t":2.465,"v":66.5},{"k":"LVP","t":2.482,"v":69.6},{"k":"LVP","t":2.5,"v":74},{"k":"LVP","t":2.519,"v":76.8},{"k":"LVP","t":2.535,"v":75},{"k":"LVP","t":2.546,"v":72.8},{"k":"LVP","t":2.558,"v":65},{"k":"LVP","t":2.57,"v":55.2},{"k":"LVP","t":2.581,"v":40},{"k":"LVP","t":2.592,"v":26.4},{"k":"LVP","t":2.601,"v":14},{"k":"LVP","t":2.61,"v":4},{"k":"LVP","t":2.628,"v":-8.8},{"k":"LVP","t":2.647,"v":-12.5},{"k":"LVP","t":2.665,"v":-7.2},{"k":"LVP","t":2.683,"v":5.7},{"k":"LVP","t":2.702,"v":15.3},{"k":"LVP","t":2.724,"v":8.8},{"k":"LVP","t":2.74,"v":2},{"k":"LVP","t":2.753,"v":-0.5},{"k":"LVP","t":2.768,"v":1.5},{"k":"LVP","t":2.784,"v":5.7},{"k":"LVP","t":2.812,"v":10.4},{"k":"LVP","t":2.839,"v":7.5},{"k":"LVP","t":2.867,"v":4.3},{"k":"LVP","t":2.894,"v":7.2},{"k":"LVP","t":2.918,"v":15.3},{"k":"LVP","t":2.94,"v":28},{"k":"LVP","t":2.958,"v":44},{"k":"LVP","t":2.98,"v":61.6},{"k":"LVP","t":2.992,"v":65},{"k":"LVP","t":3,"v":67}
]
},
"vconcat": [
{"width": 546, "height": 417,
 "layer": [
  {"data": {"name": "normo"},
   "mark": {"type": "line", "interpolate": "monotone", "strokeWidth": 2.5},
   "encoding": {
    "x": {"field": "t", "type": "quantitative", "scale": {"domain": [0, 3], "nice": false, "zero": false},
          "axis": {"title": null, "values": [0, 1, 2, 3], "labelExpr": "'' + datum.value", "offset": -41.7, "domainColor": "#8c8c8c", "tickColor": "#8c8c8c", "tickSize": 5, "labelPadding": 15, "labelFlush": false, "labelFont": "Liberation Serif", "labelFontSize": 17, "labelColor": "black", "grid": false}},
    "y": {"field": "v", "type": "quantitative", "scale": {"domain": [-20, 180], "nice": false, "zero": false},
          "axis": {"title": "Pressure (mmHg)", "values": [-20, 0, 20, 40, 60, 80, 100, 120, 140, 160, 180], "labelExpr": "'' + datum.value", "domainColor": "#8c8c8c", "tickColor": "#8c8c8c", "tickSize": 6, "labelPadding": 8, "labelFont": "Liberation Serif", "labelFontSize": 17, "labelColor": "black", "titleFont": "Liberation Serif", "titleFontSize": 28, "titleFontWeight": "bold", "titleColor": "black", "titlePadding": 10, "grid": false}},
    "color": {"field": "k", "type": "nominal", "scale": {"domain": ["AoP", "LVP"], "range": ["#A6201E", "#1F4E9E"]},
          "legend": {"title": null, "orient": "none", "legendX": 463, "legendY": 22, "padding": 0, "symbolType": "stroke", "symbolSize": 484, "symbolStrokeWidth": 2.5, "labelFont": "Liberation Serif", "labelFontSize": 21, "labelColor": "black", "labelOffset": 3, "rowPadding": 8}}
   }},
  {"data": {"values": [{}]},
   "mark": {"type": "text", "text": "Normo-tensive", "font": "Liberation Serif", "fontSize": 37, "fontWeight": "bold", "color": "black", "align": "center", "baseline": "alphabetic"},
   "encoding": {"x": {"datum": 1.283, "type": "quantitative"}, "y": {"datum": 167.5, "type": "quantitative"}}}
 ]},
{"width": 546, "height": 417,
 "layer": [
  {"data": {"name": "hyper"},
   "mark": {"type": "line", "interpolate": "monotone", "strokeWidth": 2.5},
   "encoding": {
    "x": {"field": "t", "type": "quantitative", "scale": {"domain": [0, 3], "nice": false, "zero": false},
          "axis": {"title": null, "values": [0, 1, 2, 3], "labelExpr": "'' + datum.value", "offset": -41.7, "domainColor": "#8c8c8c", "tickColor": "#8c8c8c", "tickSize": 5, "labelPadding": 15, "labelFlush": false, "labelFont": "Liberation Serif", "labelFontSize": 17, "labelColor": "black", "grid": false}},
    "y": {"field": "v", "type": "quantitative", "scale": {"domain": [-20, 180], "nice": false, "zero": false},
          "axis": {"title": "Pressure (mmHg)", "values": [-20, 0, 20, 40, 60, 80, 100, 120, 140, 160, 180], "labelExpr": "'' + datum.value", "domainColor": "#8c8c8c", "tickColor": "#8c8c8c", "tickSize": 6, "labelPadding": 8, "labelFont": "Liberation Serif", "labelFontSize": 17, "labelColor": "black", "titleFont": "Liberation Serif", "titleFontSize": 28, "titleFontWeight": "bold", "titleColor": "black", "titlePadding": 10, "grid": false}},
    "color": {"field": "k", "type": "nominal", "scale": {"domain": ["AoP", "LVP"], "range": ["#A6201E", "#1F4E9E"]},
          "legend": {"title": null, "orient": "none", "legendX": 463, "legendY": 22, "padding": 0, "symbolType": "stroke", "symbolSize": 484, "symbolStrokeWidth": 2.5, "labelFont": "Liberation Serif", "labelFontSize": 21, "labelColor": "black", "labelOffset": 3, "rowPadding": 8}}
   }},
  {"data": {"values": [{}]},
   "mark": {"type": "text", "text": "Hypertensive", "font": "Liberation Serif", "fontSize": 37, "fontWeight": "bold", "color": "black", "align": "center", "baseline": "alphabetic"},
   "encoding": {"x": {"datum": 1.283, "type": "quantitative"}, "y": {"datum": 167.8, "type": "quantitative"}}}
 ]},
{"width": 546, "height": 417,
 "layer": [
  {"data": {"name": "hypo"},
   "mark": {"type": "line", "interpolate": "monotone", "strokeWidth": 2.5},
   "encoding": {
    "x": {"field": "t", "type": "quantitative", "scale": {"domain": [0, 3], "nice": false, "zero": false},
          "axis": {"title": null, "values": [0, 1, 2, 3], "labelExpr": "'' + datum.value", "offset": -41.7, "domainColor": "#8c8c8c", "tickColor": "#8c8c8c", "tickSize": 5, "labelPadding": 15, "labelFlush": false, "labelFont": "Liberation Serif", "labelFontSize": 17, "labelColor": "black", "grid": false}},
    "y": {"field": "v", "type": "quantitative", "scale": {"domain": [-20, 180], "nice": false, "zero": false},
          "axis": {"title": "Pressure (mmHg)", "values": [-20, 0, 20, 40, 60, 80, 100, 120, 140, 160, 180], "labelExpr": "'' + datum.value", "domainColor": "#8c8c8c", "tickColor": "#8c8c8c", "tickSize": 6, "labelPadding": 8, "labelFont": "Liberation Serif", "labelFontSize": 17, "labelColor": "black", "titleFont": "Liberation Serif", "titleFontSize": 28, "titleFontWeight": "bold", "titleColor": "black", "titlePadding": 10, "grid": false}},
    "color": {"field": "k", "type": "nominal", "scale": {"domain": ["AoP", "LVP"], "range": ["#A6201E", "#1F4E9E"]},
          "legend": {"title": null, "orient": "none", "legendX": 463, "legendY": 22, "padding": 0, "symbolType": "stroke", "symbolSize": 484, "symbolStrokeWidth": 2.5, "labelFont": "Liberation Serif", "labelFontSize": 21, "labelColor": "black", "labelOffset": 3, "rowPadding": 8}}
   }},
  {"data": {"values": [{}]},
   "mark": {"type": "text", "text": "Hypotensive", "font": "Liberation Serif", "fontSize": 37, "fontWeight": "bold", "color": "black", "align": "center", "baseline": "alphabetic"},
   "encoding": {"x": {"datum": 1.283, "type": "quantitative"}, "y": {"datum": 168.3, "type": "quantitative"}}}
 ]}
]
}
